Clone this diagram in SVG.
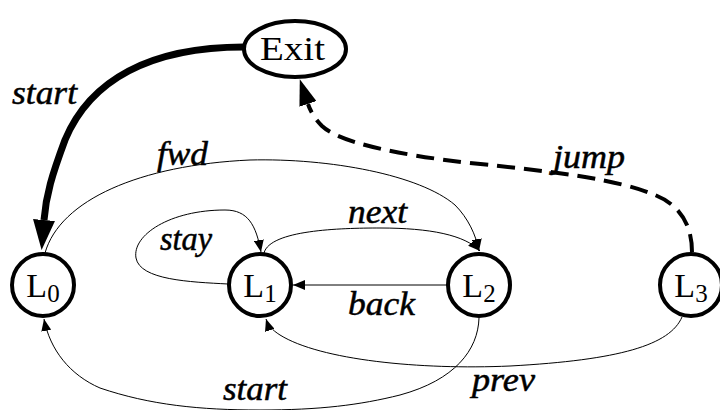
<svg xmlns="http://www.w3.org/2000/svg" width="720" height="410" viewBox="0 0 720 410">
<style>
.node{fill:#fff;stroke:#000;stroke-width:4}
.nt{font-family:"Liberation Serif","Times New Roman",serif;font-size:34px;fill:#000}
.sub{font-size:25px}
.lbl{font-family:"Liberation Serif","Times New Roman",serif;font-style:italic;font-size:33px;fill:#000;stroke:#000;stroke-width:0.5}
.thin{fill:none;stroke:#000;stroke-width:1}
</style>
<defs>
<marker id="ah" viewBox="0 0 12 10" refX="12" refY="5" markerWidth="12" markerHeight="10" markerUnits="userSpaceOnUse" orient="auto"><path d="M0,0 L12,5 L0,10 z" fill="#000"/></marker>
<marker id="ahThick" viewBox="0 0 30 22" refX="0" refY="11" markerWidth="30" markerHeight="22" markerUnits="userSpaceOnUse" orient="auto"><path d="M0,0 L30,11 L0,22 z" fill="#000"/></marker>
<marker id="ahDash" viewBox="0 0 26 18" refX="0" refY="9" markerWidth="26" markerHeight="18" markerUnits="userSpaceOnUse" orient="auto"><path d="M0,0 L26,9 L0,18 z" fill="#000"/></marker>
</defs>
<g id="connectors">
<path id="e-start-top" d="M244,47 C150,47 90,80 65,140 C52,175 46,195 44,220" fill="none" stroke="#000" stroke-width="7" marker-end="url(#ahThick)"/>
<path id="e-jump" d="M692,252 C692,225 680,205 655,195 C620,180 560,172 470,163 C400,155 340,143 322,126 C316,120 311,113 308,104" fill="none" stroke="#000" stroke-width="4" stroke-dasharray="18,9" marker-end="url(#ahDash)"/>
<path id="e-fwd" class="thin" d="M45,253 C60,200 140,165 250,160 C330,158 420,175 455,205 C468,218 476,235 479,251" marker-end="url(#ah)"/>
<path id="e-next" class="thin" d="M264,253 C270,230 340,228 380,228 C430,228 465,235 480,251" marker-end="url(#ah)"/>
<path id="e-stay" class="thin" d="M228,284 C190,282 140,280 136,258 C132,235 170,210 225,210 C248,210 256,225 261,252" marker-end="url(#ah)"/>
<path id="e-back" class="thin" d="M447,285 L293,285" marker-end="url(#ah)"/>
<path id="e-prev" class="thin" d="M682,317 C670,345 620,360 510,366 C420,370 320,360 280,335 C272,330 268,325 266,319" marker-end="url(#ah)"/>
<path id="e-start-bottom" class="thin" d="M479,318 C478,350 455,380 400,395 C360,405 320,410 260,410 C200,410 150,405 100,388 C70,375 50,350 44,319" marker-end="url(#ah)"/>
<text class="lbl" x="12" y="104" textLength="65" lengthAdjust="spacingAndGlyphs">start</text>
<text class="lbl" x="157" y="165" textLength="51" lengthAdjust="spacingAndGlyphs">fwd</text>
<text class="lbl" x="348" y="223" textLength="59" lengthAdjust="spacingAndGlyphs">next</text>
<text class="lbl" x="160" y="250" textLength="52" lengthAdjust="spacingAndGlyphs">stay</text>
<text class="lbl" x="348" y="315" textLength="67" lengthAdjust="spacingAndGlyphs">back</text>
<text class="lbl" x="553" y="168" textLength="72" lengthAdjust="spacingAndGlyphs">jump</text>
<text class="lbl" x="472" y="391" textLength="63" lengthAdjust="spacingAndGlyphs">prev</text>
<text class="lbl" x="223" y="400" textLength="64" lengthAdjust="spacingAndGlyphs">start</text>
</g>
<g id="exit">
<ellipse class="node" cx="295" cy="49" rx="51" ry="28" stroke-width="3.5"/>
<text class="nt" x="260" y="60" textLength="65" lengthAdjust="spacingAndGlyphs">Exit</text>
</g>
<g id="L0">
<circle class="node" cx="43" cy="285" r="31"/>
<text class="nt" x="43" y="297" text-anchor="middle">L<tspan class="sub" dy="5">0</tspan></text>
</g>
<g id="L1">
<circle class="node" cx="260" cy="285" r="31"/>
<text class="nt" x="260" y="297" text-anchor="middle">L<tspan class="sub" dy="5">1</tspan></text>
</g>
<g id="L2">
<circle class="node" cx="479" cy="285" r="31"/>
<text class="nt" x="479" y="297" text-anchor="middle">L<tspan class="sub" dy="5">2</tspan></text>
</g>
<g id="L3">
<circle class="node" cx="691" cy="285" r="31"/>
<text class="nt" x="691" y="297" text-anchor="middle">L<tspan class="sub" dy="5">3</tspan></text>
</g>
</svg>
